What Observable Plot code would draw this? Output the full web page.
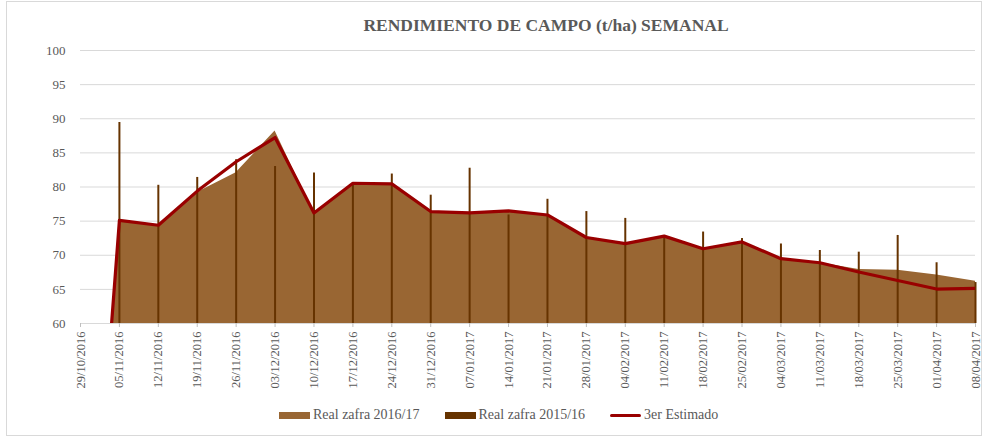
<!DOCTYPE html>
<html>
<head>
<meta charset="utf-8">
<script src="https://cdn.jsdelivr.net/npm/d3@7"></script>
<script src="https://cdn.jsdelivr.net/npm/@observablehq/plot@0.6"></script>
<style>
  html, body { margin: 0; padding: 0; background: #fff; }
  #chart { position: relative; width: 984px; height: 438px; overflow: hidden; font-family: "Liberation Serif", "Times New Roman", serif; color: #595959; }
  #frame { position: absolute; left: 6px; top: 1px; width: 976px; height: 435px; border: 1px solid #d9d9d9; box-sizing: border-box; }
  #title { position: absolute; left: 246px; width: 600px; top: 15px; text-align: center; font-weight: bold; font-size: 17.5px; line-height: 20px; color: #595959; white-space: nowrap; }
  #plot { position: absolute; left: 0; top: 40px; }
  #plot svg, #plot svg text { font-family: "Liberation Serif", "Times New Roman", serif !important; }
  #legend { position: absolute; left: 279px; top: 406px; display: flex; align-items: center; font-size: 14px; line-height: 18px; white-space: nowrap; }
  .item { display: flex; align-items: center; margin-right: 25px; }
  .sw { width: 31px; height: 7px; margin-right: 3px; }
  .ln { width: 31px; height: 3px; border-radius: 2px; margin-right: 3px; background: #990000; }
</style>
</head>
<body>
<div id="chart">
  <div id="frame"></div>
  <div id="title">RENDIMIENTO DE CAMPO (t/ha) SEMANAL</div>
  <div id="plot"></div>
  <div id="legend"></div>
</div>
<script>
const dates = ["29/10/2016","05/11/2016","12/11/2016","19/11/2016","26/11/2016","03/12/2016","10/12/2016","17/12/2016","24/12/2016","31/12/2016","07/01/2017","14/01/2017","21/01/2017","28/01/2017","04/02/2017","11/02/2017","18/02/2017","25/02/2017","04/03/2017","11/03/2017","18/03/2017","25/03/2017","01/04/2017","08/04/2017"];
const real1617 = [0, 75.0, 74.3, 79.2, 82.1, 88.2, 76.2, 80.6, 80.4, 76.4, 76.2, 76.5, 75.9, 72.6, 71.7, 72.8, 70.9, 72.0, 69.5, 68.9, 67.9, 67.8, 67.1, 66.2];
const real1516 = [null, 89.45, 80.25, 81.4, 84.0, 83.0, 82.05, 80.3, 81.9, 78.8, 82.75, 75.9, 78.2, 76.4, 75.4, 72.7, 73.4, 72.45, 71.65, 70.7, 70.45, 72.9, 68.9, 66.0];
const estimado = [0, 75.1, 74.4, 79.4, 83.7, 87.25, 76.2, 80.55, 80.45, 76.4, 76.2, 76.5, 75.9, 72.6, 71.7, 72.8, 70.95, 71.95, 69.5, 68.9, 67.55, 66.3, 65.05, 65.15];
const yTicks = [60, 65, 70, 75, 80, 85, 90, 95, 100];
const seriesNames = ["Real zafra 2016/17", "Real zafra 2015/16", "3er Estimado"];
const colors = ["#996633", "#663300", "#990000"];
const serif = "Liberation Serif";

const idx = dates.map((d, i) => i);
const table = idx.map(i => ({i, a: real1617[i], b: real1516[i], e: estimado[i]}));

const chart = Plot.plot({
  width: 984,
  height: 360,
  marginLeft: 80,
  marginRight: 9,
  marginTop: 10,
  marginBottom: 77,
  style: { fontFamily: serif, color: "#595959", background: "transparent" },
  x: { type: "linear", domain: [0, dates.length - 1] },
  y: { domain: [60, 100] },
  marks: [
    Plot.gridY(yTicks, { stroke: "#d9d9d9", strokeOpacity: 1 }),
    Plot.ruleY([60], { stroke: "#d9d9d9" }),
    Plot.areaY(table, { x: "i", y1: 0, y2: "a", fill: colors[0], clip: true }),
    Plot.ruleX(table.filter(d => d.b != null), { x: "i", y1: 60, y2: "b", stroke: colors[1], strokeWidth: 2 }),
    Plot.lineY(table, { x: "i", y: "e", stroke: colors[2], strokeWidth: 3.2, clip: true }),
    Plot.axisY(yTicks, { tickSize: 0, tickPadding: 15, fontSize: 13, fontFamily: serif, label: null }),
    Plot.axisX(idx, { tickFormat: i => dates[i], tickRotate: -90, tickSize: 4, tickPadding: 4, fontSize: 12.5, fontFamily: serif, stroke: "#bfbfbf", label: null })
  ]
});
document.getElementById("plot").appendChild(chart);

const legend = document.getElementById("legend");
seriesNames.forEach((name, k) => {
  const it = document.createElement("div");
  it.className = "item";
  const sw = document.createElement("span");
  if (k < 2) { sw.className = "sw"; sw.style.background = colors[k]; }
  else { sw.className = "ln"; sw.style.background = colors[k]; }
  it.appendChild(sw);
  const t = document.createElement("span");
  t.textContent = name;
  it.appendChild(t);
  legend.appendChild(it);
});
</script>
</body>
</html>
